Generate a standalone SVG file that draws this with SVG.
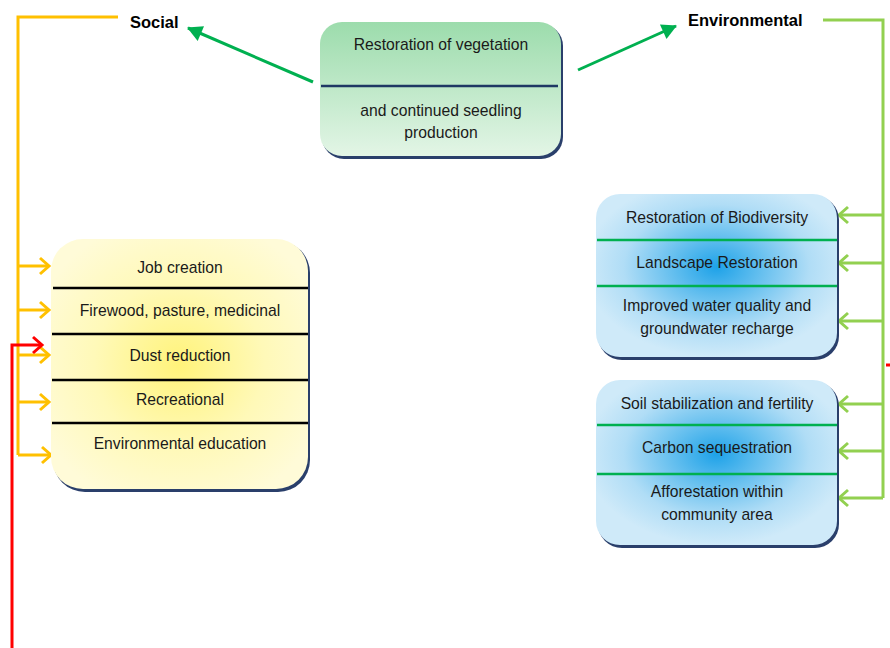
<svg xmlns="http://www.w3.org/2000/svg" width="890" height="648" viewBox="0 0 890 648">
<style>
.t{font-family:"Liberation Sans",Arial,sans-serif;font-size:15.7px;fill:#1a1a1a;text-anchor:middle}
.h{font-family:"Liberation Sans",Arial,sans-serif;font-size:16.5px;font-weight:bold;fill:#000}
.sh{fill:#2a3f6b}
.dy{stroke:#000;stroke-width:2.5}
.dg{stroke:#00b050;stroke-width:2.5}
.c{fill:none;stroke-width:3}
</style>
<defs>
<linearGradient id="gG" x1="0" y1="0" x2="0" y2="1">
<stop offset="0" stop-color="#9cdcac"/><stop offset="1" stop-color="#e3f5e6"/>
</linearGradient>
<radialGradient id="gY" cx="0.5" cy="0.5" r="0.6">
<stop offset="0" stop-color="#fff37a"/><stop offset="0.55" stop-color="#fff9b8"/><stop offset="1" stop-color="#fffbd8"/>
</radialGradient>
<radialGradient id="gB" cx="0.5" cy="0.45" r="0.55">
<stop offset="0" stop-color="#1ea2e8"/><stop offset="0.3" stop-color="#5dbcee"/><stop offset="0.7" stop-color="#b0ddf6"/><stop offset="1" stop-color="#cfeaf9"/>
</radialGradient>
<marker id="aO" markerUnits="userSpaceOnUse" markerWidth="20" markerHeight="20" refX="14" refY="10" orient="auto">
<polyline points="5,2 14,10 5,18" fill="none" stroke="#ffc000" stroke-width="3"/>
</marker>
<marker id="aR" markerUnits="userSpaceOnUse" markerWidth="20" markerHeight="20" refX="14" refY="10" orient="auto">
<polyline points="5,2 14,10 5,18" fill="none" stroke="#ff0000" stroke-width="3"/>
</marker>
<marker id="aL" markerUnits="userSpaceOnUse" markerWidth="20" markerHeight="20" refX="14" refY="10" orient="auto">
<polyline points="5,2 14,10 5,18" fill="none" stroke="#92d050" stroke-width="3"/>
</marker>
<marker id="aG" markerUnits="userSpaceOnUse" markerWidth="20" markerHeight="20" refX="15" refY="10" orient="auto">
<polygon points="1,2 16,10 1,18" fill="#00b050"/>
</marker>
</defs>

<g id="connectors">
<polyline class="c" stroke="#ffc000" points="118,17 18,17 18,455"/>
<line class="c" stroke="#ffc000" x1="18" y1="266" x2="49" y2="266" marker-end="url(#aO)"/>
<line class="c" stroke="#ffc000" x1="18" y1="310" x2="49" y2="310" marker-end="url(#aO)"/>
<line class="c" stroke="#ffc000" x1="18" y1="355" x2="49" y2="355" marker-end="url(#aO)"/>
<line class="c" stroke="#ffc000" x1="18" y1="402" x2="49" y2="402" marker-end="url(#aO)"/>
<line class="c" stroke="#ffc000" x1="18" y1="455" x2="51" y2="455" marker-end="url(#aO)"/>
<polyline class="c" stroke="#ff0000" points="12,648 12,345 42,345" marker-end="url(#aR)"/>
<line class="c" stroke="#00b050" x1="313" y1="82" x2="188" y2="28" marker-end="url(#aG)"/>
<line class="c" stroke="#00b050" x1="578" y1="70" x2="676" y2="26" marker-end="url(#aG)"/>
<polyline class="c" stroke="#92d050" points="823,20 883,20 883,498"/>
<line class="c" stroke="#92d050" x1="883" y1="215" x2="839" y2="215" marker-end="url(#aL)"/>
<line class="c" stroke="#92d050" x1="883" y1="263" x2="839" y2="263" marker-end="url(#aL)"/>
<line class="c" stroke="#92d050" x1="883" y1="321" x2="839" y2="321" marker-end="url(#aL)"/>
<line class="c" stroke="#92d050" x1="883" y1="404" x2="839" y2="404" marker-end="url(#aL)"/>
<line class="c" stroke="#92d050" x1="883" y1="451" x2="839" y2="451" marker-end="url(#aL)"/>
<line class="c" stroke="#92d050" x1="883" y1="498" x2="839" y2="498" marker-end="url(#aL)"/>
<line stroke="#ff0000" stroke-width="3" x1="886" y1="365" x2="890" y2="365"/>
</g>

<g id="social">
<text class="h" x="130" y="28">Social</text>
</g>
<g id="environmental">
<text class="h" x="688" y="26">Environmental</text>
</g>

<g id="restoration">
<rect class="sh" x="322" y="24" width="241" height="135" rx="22"/>
<rect x="320" y="22" width="241" height="134" rx="22" fill="url(#gG)"/>
<line x1="321" y1="86" x2="558" y2="86" stroke="#1f3864" stroke-width="2.5"/>
<text class="t" x="441" y="50">Restoration of vegetation</text>
<text class="t" x="441" y="116">and continued seedling</text>
<text class="t" x="441" y="138">production</text>
</g>

<g id="social-benefits">
<rect class="sh" x="53" y="241" width="257" height="251" rx="32"/>
<rect x="51" y="239" width="257" height="250" rx="32" fill="url(#gY)"/>
<line class="dy" x1="53" y1="288" x2="308" y2="288"/>
<line class="dy" x1="52" y1="334" x2="308" y2="334"/>
<line class="dy" x1="52" y1="380" x2="308" y2="380"/>
<line class="dy" x1="52" y1="423" x2="308" y2="423"/>
<text class="t" x="180" y="273">Job creation</text>
<text class="t" x="180" y="316">Firewood, pasture, medicinal</text>
<text class="t" x="180" y="361">Dust reduction</text>
<text class="t" x="180" y="405">Recreational</text>
<text class="t" x="180" y="449">Environmental education</text>
</g>

<g id="env-benefits-1">
<rect class="sh" x="598" y="196" width="241" height="164" rx="24"/>
<rect x="596" y="194" width="241" height="163" rx="24" fill="url(#gB)"/>
<line class="dg" x1="597" y1="240" x2="837" y2="240"/>
<line class="dg" x1="597" y1="286" x2="837" y2="286"/>
<text class="t" x="717" y="223">Restoration of Biodiversity</text>
<text class="t" x="717" y="268">Landscape Restoration</text>
<text class="t" x="717" y="311">Improved water quality and</text>
<text class="t" x="717" y="334">groundwater recharge</text>
</g>

<g id="env-benefits-2">
<rect class="sh" x="598" y="382" width="241" height="166" rx="24"/>
<rect x="596" y="380" width="241" height="165" rx="24" fill="url(#gB)"/>
<line class="dg" x1="597" y1="425" x2="837" y2="425"/>
<line class="dg" x1="597" y1="474" x2="837" y2="474"/>
<text class="t" x="717" y="409">Soil stabilization and fertility</text>
<text class="t" x="717" y="453">Carbon sequestration</text>
<text class="t" x="717" y="497">Afforestation within</text>
<text class="t" x="717" y="520">community area</text>
</g>
</svg>
